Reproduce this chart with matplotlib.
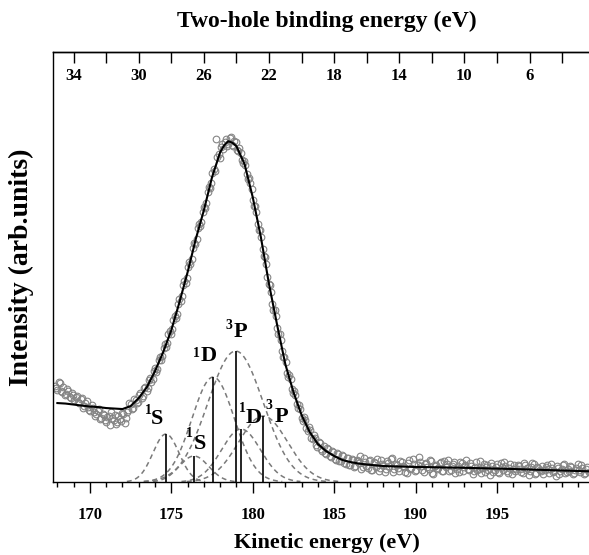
import numpy as np
import matplotlib
matplotlib.use("Agg")
import matplotlib.pyplot as plt

# ------------------------------------------------------------------ data
# measured spectrum, two interleaved sweeps (grid start, step)
ke_start_a = 167.85
ke_start_b = 167.925
ke_step = 0.15
counts_a = [
    96, 92, 99, 90, 87, 93, 85, 89, 82, 86,
    79, 84, 76, 81, 72, 77, 70, 68, 73, 64,
    67, 60, 66, 70, 62, 58, 66, 61, 68, 64,
    72, 78, 74, 82, 80, 89, 86, 95, 94, 104,
    103, 114, 113, 125, 126, 138, 139, 151, 153, 166,
    168, 183, 186, 201, 204, 220, 223, 239, 243, 258,
    260, 275, 279, 295, 299, 313, 343, 328, 335, 333,
    343, 338, 345, 336, 340, 331, 329, 319, 317, 303,
    299, 282, 276, 258, 252, 233, 225, 205, 197, 178,
    172, 154, 148, 131, 125, 109, 107, 93, 91, 78,
    77, 64, 65, 54, 55, 44, 47, 37, 40, 33,
    36, 28, 33, 25, 30, 22, 28, 21, 26, 18,
    24, 17, 22, 16, 21, 26, 15, 20, 14, 22,
    12, 19, 23, 14, 18, 10, 21, 16, 24, 13,
    17, 11, 20, 15, 9, 22, 14, 18, 12, 25,
    16, 10, 19, 13, 21, 8, 17, 14, 20, 11,
    15, 22, 12, 18, 9, 16, 20, 11, 17, 13,
    19, 8, 15, 12, 21, 14, 10, 17, 7, 16,
    12, 18, 9, 15, 20, 11, 14, 8, 17, 13,
    16, 10, 19, 12, 7, 15, 18, 9, 14, 11,
    8, 15, 13, 18, 10, 6, 14, 11, 17, 9,
    13, 16, 8, 12, 18, 10, 14, 9, 15,
]
counts_b = [
    94, 100, 91, 95, 88, 91, 84, 87, 85, 80,
    83, 74, 79, 75, 71, 74, 66, 71, 63, 68,
    62, 65, 57, 64, 67, 60, 63, 69, 59, 70,
    79, 73, 83, 79, 87, 84, 94, 91, 102, 100,
    111, 110, 122, 122, 134, 135, 148, 148, 162, 164,
    178, 181, 197, 199, 215, 218, 234, 238, 254, 256,
    270, 274, 290, 294, 309, 311, 325, 324, 338, 340,
    336, 344, 337, 341, 332, 334, 322, 321, 308, 304,
    293, 276, 270, 252, 245, 226, 218, 198, 190, 172,
    166, 148, 142, 125, 120, 105, 103, 89, 87, 74,
    73, 61, 62, 51, 52, 43, 44, 35, 39, 31,
    29, 34, 26, 31, 23, 29, 21, 27, 19, 24,
    17, 23, 15, 22, 19, 13, 24, 16, 21, 12,
    20, 15, 11, 22, 17, 13, 19, 23, 10, 18,
    14, 21, 16, 10, 19, 13, 23, 11, 17, 20,
    12, 18, 15, 22, 9, 16, 13, 19, 11, 21,
    18, 11, 16, 20, 13, 10, 19, 15, 22, 12,
    16, 11, 20, 13, 9, 18, 15, 12, 19, 10,
    15, 10, 19, 12, 16, 9, 18, 13, 11, 17,
    13, 9, 17, 14, 11, 19, 8, 15, 12, 16,
    12, 17, 9, 14, 11, 16, 8, 13, 18, 10,
    11, 15, 9, 14, 12, 17, 8, 13, 10,
]

# total fit (solid line)
fit_ke = [168.0, 168.5, 169.0, 169.5, 170.0, 170.5, 171.0, 171.5, 172.0, 172.5,
          173.0, 173.5, 174.0, 174.5, 175.0, 175.5, 176.0, 176.5, 177.0, 177.5,
          178.0, 178.25, 178.5, 178.75, 179.0, 179.5, 180.0, 180.5, 181.0, 181.5,
          182.0, 182.5, 183.0, 183.5, 184.0, 184.5, 185.0, 185.5, 186.0, 186.5,
          187.0, 188.0, 189.0, 190.0, 191.0, 192.0, 193.0, 194.0, 195.0, 196.0,
          197.0, 198.0, 199.0, 200.0, 201.3]
fit_int = [79, 78.5, 77.5, 76.5, 75.5, 75, 74, 73.5, 73, 76,
           84, 95, 111, 130, 152, 180, 210, 243, 272, 305,
           330, 337, 341, 339.5, 336, 318, 285, 245, 198, 157,
           118, 90, 67, 50, 38, 31, 26, 22, 20, 18.5,
           17.5, 16, 15.5, 15, 14.8, 14.5, 14.2, 13.8, 13.4, 13,
           12.5, 12, 11.5, 11, 10.5]

# fitted components (dashed) and their stick markers
comp_centers = [174.67, 176.39, 177.57, 178.95, 179.28, 180.64]
comp_heights = [48, 26, 105, 131, 53, 66]
comp_sigmas = [0.8, 0.9, 1.3, 1.7, 1.2, 1.5]
comp_sups = ["1", "1", "1", "3", "1", "3"]
comp_terms = ["S", "S", "D", "P", "D", "P"]

bottom_ticks = [170, 175, 180, 185, 190, 195]
top_ticks = [34, 30, 26, 22, 18, 14, 10, 6]
top_minor_ticks = [32, 28, 24, 20, 16, 12, 8, 4]
BE_OFFSET = 203.0  # two-hole binding energy = BE_OFFSET - kinetic energy

# ------------------------------------------------------------------ style
plt.rcParams["font.family"] = ["Liberation Serif", "DejaVu Serif"]
plt.rcParams["font.weight"] = "bold"
plt.rcParams["axes.labelweight"] = "bold"

W, H = 589, 555
fig = plt.figure(figsize=(W / 100, H / 100), dpi=100)
x0, x1, ytop, ybot = 53.3, 600.0, 52.3, 482.0
ax = fig.add_axes([x0 / W, (H - ybot) / H, (x1 - x0) / W, (ybot - ytop) / H])

for start, vals in ((ke_start_a, counts_a), (ke_start_b, counts_b)):
    ke = start + ke_step * np.arange(len(vals))
    ax.plot(ke, vals, "o", mfc="none", mec="#858585", ms=4.8, mew=0.8, zorder=2)
ax.plot(fit_ke, fit_int, color="black", lw=1.5, zorder=3)

xx = np.linspace(167.8, 201.3, 1500)
for c, h, s in zip(comp_centers, comp_heights, comp_sigmas):
    g = h * np.exp(-0.5 * ((xx - c) / s) ** 2)
    g = np.where(g > 0.5, g, np.nan)
    ax.plot(xx, g, color="#7a7a7a", ls=(0, (3.2, 2.4)), lw=1.1, zorder=1.5)

ax.vlines(comp_centers, 0, comp_heights, color="black", lw=1.2, zorder=2.2)

# label offsets (pixels) relative to stick tops
sup_off = [(-18, 24), (-4.7, 23), (-16.6, 24), (-6.7, 25.7), (1.5, 21), (5.7, 10.6)]
term_off = [(-9, 15), (6, 12), (-4, 21), (4.5, 18.7), (12.7, 11), (18.7, -1)]
for c, h, sp, tm, so, to in zip(comp_centers, comp_heights, comp_sups, comp_terms,
                                sup_off, term_off):
    ax.annotate(tm, xy=(c, h), xytext=(to[0] * 0.72, to[1] * 0.72),
                textcoords="offset points", ha="center", va="center",
                fontsize=16, fontweight="bold")
    ax.annotate(sp, xy=(c, h), xytext=(so[0] * 0.72, so[1] * 0.72),
                textcoords="offset points", ha="center", va="center",
                fontsize=10, fontweight="bold")

ax.set_xlim(167.75, 201.33)
ax.set_ylim(0, 430)
ax.set_yticks([])
ax.set_xticks(bottom_ticks)
ax.set_xticklabels([str(t) for t in bottom_ticks])
ax.set_xticks(np.arange(168, 202), minor=True)
ax.tick_params(axis="x", which="major", direction="out", length=8, width=1,
               pad=10, labelsize=12)
ax.tick_params(axis="x", which="minor", direction="out", length=3.6, width=1)
ax.spines["right"].set_visible(False)
for sp in ("left", "bottom", "top"):
    ax.spines[sp].set_linewidth(1.0)

sec = ax.secondary_xaxis("top", functions=(lambda k: BE_OFFSET - k,
                                           lambda b: BE_OFFSET - b))
sec.set_xticks(top_ticks)
sec.set_xticklabels([str(t) for t in top_ticks])
sec.set_xticks(top_minor_ticks, minor=True)
sec.tick_params(which="both", direction="in", length=8, width=1, pad=-23,
                labelsize=12)
sec.spines["top"].set_linewidth(1.0)
sec.set_xlabel("Two-hole binding energy (eV)", fontsize=17, fontweight="bold",
               labelpad=18)

ax.set_xlabel("Kinetic energy (eV)", fontsize=16, fontweight="bold", labelpad=7)
ax.set_ylabel("Intensity (arb.units)", fontsize=20, fontweight="bold")
ax.yaxis.set_label_coords(-0.0353, 0.5)

fig.savefig("out.png", dpi=100)
